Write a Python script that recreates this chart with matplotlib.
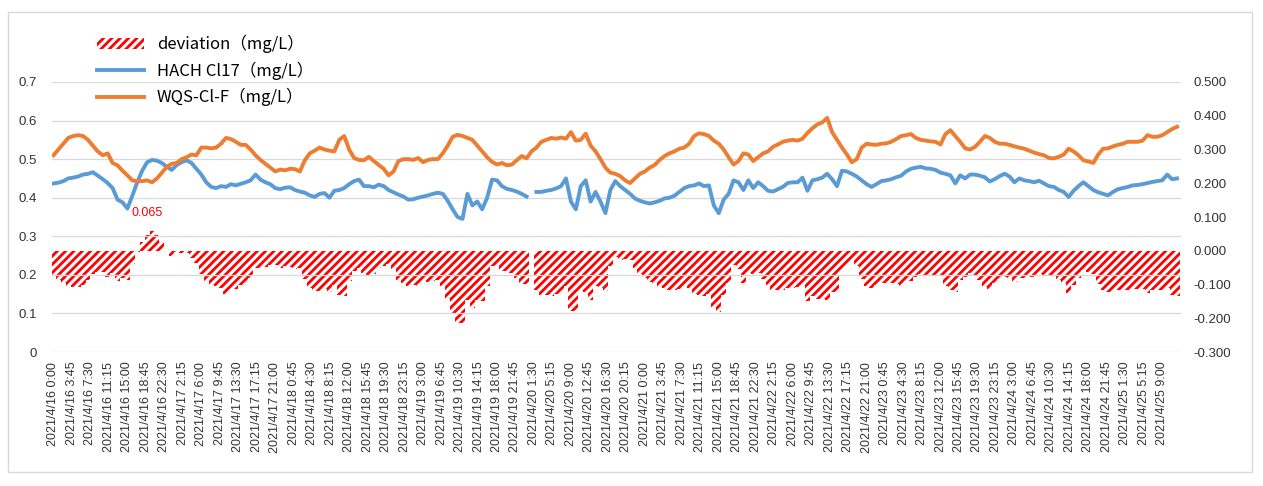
import matplotlib
matplotlib.use("Agg")
import matplotlib.pyplot as plt
import numpy as np
import pandas as pd
from matplotlib.patches import Rectangle
from matplotlib.ticker import FixedLocator, FuncFormatter, MultipleLocator

# hourly readings from 2021/4/16 0:00 (mg/L)
wqs = [
    0.510, 0.525, 0.540, 0.555, 0.560, 0.562, 0.560, 0.550, 0.535, 0.520,
    0.510, 0.515, 0.490, 0.484, 0.470, 0.458, 0.445, 0.443, 0.443, 0.445,
    0.440, 0.450, 0.465, 0.480, 0.488, 0.490, 0.500, 0.505, 0.512, 0.510,
    0.530, 0.530, 0.528, 0.530, 0.540, 0.555, 0.552, 0.545, 0.537, 0.537,
    0.525, 0.510, 0.498, 0.488, 0.478, 0.468,
    0.473, 0.471, 0.475, 0.474, 0.468, 0.497, 0.515, 0.522, 0.530, 0.525,
    0.522, 0.520, 0.550, 0.560, 0.525, 0.503, 0.498, 0.497, 0.506, 0.495,
    0.485, 0.475, 0.458, 0.468, 0.495, 0.500, 0.500, 0.498, 0.503, 0.492,
    0.498, 0.500, 0.500, 0.515, 0.535, 0.558, 0.563, 0.560, 0.555, 0.550,
    0.535, 0.520, 0.505, 0.493, 0.486, 0.490,
    0.484, 0.486, 0.497, 0.508, 0.502, 0.520, 0.530, 0.545, 0.550, 0.555,
    0.553, 0.556, 0.553, 0.570, 0.548, 0.550, 0.566, 0.535, 0.520, 0.500,
    0.478, 0.465, 0.462, 0.456, 0.445, 0.438, 0.450, 0.462, 0.468, 0.478,
    0.485, 0.498, 0.508, 0.515, 0.520, 0.527, 0.530, 0.540, 0.560, 0.567,
    0.565, 0.560, 0.548, 0.540, 0.525, 0.505, 0.486,
    0.495, 0.515, 0.512, 0.495, 0.505, 0.515, 0.520, 0.532, 0.538, 0.545,
    0.548, 0.550, 0.548, 0.553, 0.568, 0.580, 0.590, 0.595, 0.607, 0.570,
    0.550, 0.530, 0.512, 0.492, 0.500, 0.530, 0.540, 0.538, 0.537, 0.540,
    0.541, 0.545, 0.552, 0.560, 0.562, 0.565, 0.555, 0.550, 0.548, 0.546,
    0.545, 0.538, 0.565, 0.575, 0.560, 0.545,
    0.528, 0.525, 0.532, 0.545, 0.560, 0.555, 0.545, 0.540, 0.540, 0.537,
    0.533, 0.530, 0.527, 0.522, 0.517, 0.513, 0.510, 0.503, 0.502, 0.506,
    0.512, 0.527, 0.520, 0.510, 0.497, 0.494, 0.490, 0.512, 0.527, 0.528,
    0.533, 0.537, 0.540, 0.545, 0.545, 0.545, 0.548, 0.562, 0.558, 0.558,
    0.562, 0.570, 0.578, 0.584,
]

hach = [
    0.437, 0.439, 0.443, 0.450, 0.452, 0.455, 0.460, 0.462, 0.466, 0.457,
    0.448, 0.438, 0.425, 0.395, 0.388, 0.372, 0.405, 0.440, 0.470, 0.492,
    0.498, 0.496, 0.490, 0.480, 0.472, 0.485, 0.492, 0.497, 0.490, 0.475,
    0.460, 0.440, 0.428, 0.425, 0.430, 0.428, 0.435, 0.432, 0.436, 0.440,
    0.445, 0.460, 0.447, 0.440, 0.435, 0.425,
    0.422, 0.426, 0.427, 0.420, 0.416, 0.413, 0.406, 0.402, 0.410, 0.412,
    0.400, 0.418, 0.420, 0.425, 0.435, 0.443, 0.447, 0.430, 0.430, 0.427,
    0.434, 0.430, 0.420, 0.414, 0.408, 0.403, 0.395, 0.396, 0.400, 0.403,
    0.406, 0.410, 0.413, 0.410, 0.392, 0.370, 0.350, 0.345, 0.410, 0.380,
    0.390, 0.370, 0.400, 0.447, 0.445, 0.430,
    0.423, 0.420, 0.416, 0.410, 0.403, np.nan, 0.415, 0.415, 0.418, 0.420,
    0.424, 0.430, 0.450, 0.390, 0.370, 0.430, 0.445, 0.390, 0.415, 0.390,
    0.360, 0.420, 0.443, 0.430, 0.420, 0.410, 0.398, 0.392, 0.388, 0.385,
    0.388, 0.392, 0.398, 0.400, 0.405, 0.415, 0.425, 0.430, 0.432, 0.437,
    0.430, 0.432, 0.380, 0.360, 0.395, 0.410, 0.445,
    0.440, 0.420, 0.445, 0.425, 0.440, 0.430, 0.418, 0.416, 0.422, 0.428,
    0.438, 0.440, 0.440, 0.452, 0.418, 0.445, 0.448, 0.452, 0.462, 0.448,
    0.430, 0.470, 0.468, 0.462, 0.455, 0.445, 0.435, 0.428, 0.435, 0.443,
    0.445, 0.448, 0.453, 0.457, 0.468, 0.475, 0.478, 0.480, 0.476, 0.475,
    0.472, 0.465, 0.462, 0.458, 0.437, 0.458,
    0.450, 0.460, 0.460, 0.457, 0.453, 0.442, 0.448, 0.456, 0.462, 0.455,
    0.440, 0.450, 0.445, 0.443, 0.440, 0.444, 0.437, 0.430, 0.428, 0.420,
    0.415, 0.402, 0.418, 0.430, 0.440, 0.430, 0.420, 0.414, 0.410, 0.406,
    0.415, 0.422, 0.425, 0.428, 0.432, 0.433, 0.435, 0.438, 0.441, 0.443,
    0.445, 0.460, 0.448, 0.450,
]

peak_label = "0.065"
peak_value = 0.065
peak_hour = 19.0

label_names = ["deviation（mg/L）", "HACH Cl17（mg/L）", "WQS-Cl-F（mg/L）"]

tick_times = pd.date_range("2021-04-16 00:00", periods=61, freq="225min")
tick_labels = [f"{t.year}/{t.month}/{t.day} {t.hour}:{t.minute:02d}" for t in tick_times]

hours = np.arange(len(wqs))
hach = np.array(hach)
wqs = np.array(wqs)
deviation = hach - wqs

plt.rcParams["hatch.linewidth"] = 2.0
plt.rcParams["font.family"] = ["Liberation Sans", "DejaVu Sans"]

fig = plt.figure(figsize=(12.63, 4.86), dpi=100)
fig.patches.append(Rectangle((8 / 1263, 14 / 486), 1244 / 1263, 460 / 486,
                             transform=fig.transFigure, fill=False,
                             edgecolor="#d9d9d9", linewidth=1))

ax = fig.add_axes([52 / 1263, 1 - 352 / 486, 1129 / 1263, 270 / 486])
ax2 = ax.twinx()

bars = ax2.bar(hours, deviation, width=1.0, facecolor="none", edgecolor="#ff0000",
               linewidth=0, hatch="////", label=label_names[0])
l1, = ax.plot(hours, hach, color="#5b9bd5", linewidth=2.8, label=label_names[1])
l2, = ax.plot(hours, wqs, color="#ed7d31", linewidth=2.8, label=label_names[2])

ax2.annotate(peak_label, xy=(peak_hour, peak_value), xytext=(0, 7),
             textcoords="offset points", ha="center", va="bottom",
             color="#ff0000", fontsize=9)

ax.set_zorder(ax2.get_zorder() + 1)
ax.patch.set_visible(False)

ax.set_xlim(-0.3, 228.8)
ax.set_ylim(0, 0.7)
ax2.set_ylim(-0.3, 0.5)
ax.yaxis.set_major_locator(MultipleLocator(0.1))
ax.yaxis.set_major_formatter(FuncFormatter(lambda v, p: f"{v:.1f}".rstrip("0").rstrip(".") if v else "0"))
ax2.yaxis.set_major_locator(MultipleLocator(0.1))
ax2.yaxis.set_major_formatter(FuncFormatter(lambda v, p: f"{v:.3f}"))

ax.xaxis.set_major_locator(FixedLocator(np.arange(61) * 3.75))
ax.set_xticklabels(tick_labels, rotation=90)

ax.grid(axis="y", color="#d9d9d9", linewidth=0.9)
ax.set_axisbelow(True)
for a in (ax, ax2):
    for s in a.spines.values():
        s.set_visible(False)
ax.tick_params(axis="x", length=0, pad=7, labelsize=9, labelcolor="#333333")
ax.tick_params(axis="y", length=0, pad=11, labelsize=9.5, labelcolor="#333333")
ax2.tick_params(axis="y", length=0, pad=9, labelsize=9.5, labelcolor="#333333")

fig.legend([bars, l1, l2], label_names, loc="upper left",
           bbox_to_anchor=(97 / 1263, 1 - 35 / 486), frameon=False,
           borderpad=0, borderaxespad=0, handlelength=2.8, handletextpad=0.8,
           labelspacing=0.5, prop={"family": ["Noto Sans CJK JP", "DejaVu Sans"], "size": 12})

fig.savefig("out.png", dpi=100)
